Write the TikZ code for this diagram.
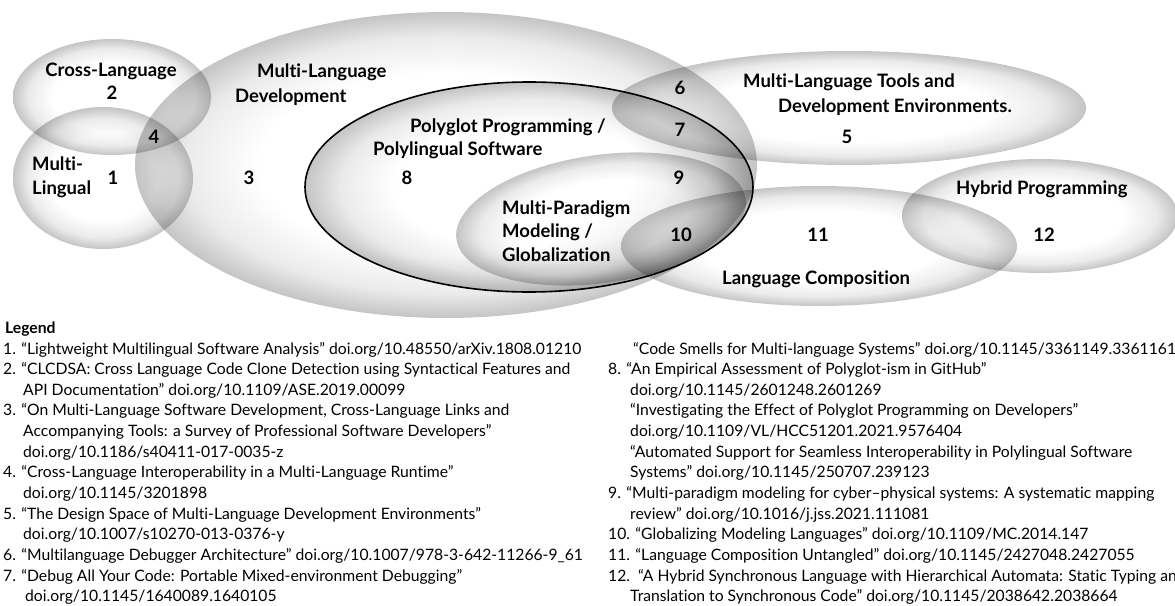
\documentclass[tikz,border=0pt]{standalone}
\usepackage{fontspec}
\setmainfont{Lato}[Ligatures=NoCommon]
\pgfdeclareradialshading{vennshade}{\pgfpointorigin}{color(0bp)=(white); color(15bp)=(white); color(21bp)=(black!8); color(25bp)=(black!23); color(50bp)=(black!23)}
\begin{document}
\begin{tikzpicture}[x=1pt,y=-1pt,
  lab/.style={inner sep=0pt, font=\fontsize{18.5}{23.5}\selectfont\bfseries},
  labw/.style={lab, anchor=base west},
  num/.style={lab, anchor=center},
  leg/.style={inner sep=0pt, anchor=base west, font=\fontsize{15.7}{20.6}\selectfont},
  venn/.style={shading=vennshade, blend mode=multiply}]
\useasboundingbox (0,0) rectangle (1175,605);
\clip (0,0) rectangle (1175,605);
% ellipses
\shade[venn] (446,165) ellipse [x radius=311pt, y radius=153pt];
\shade[venn] (112,97) ellipse [x radius=99pt, y radius=58pt];
\shade[venn] (103,178) ellipse [x radius=90pt, y radius=71pt];
\shade[venn] (529,187) ellipse [x radius=224pt, y radius=105pt];
\begin{scope}[transform canvas={rotate around={8:(601,219)}}]
\shade[venn] (601,219) ellipse [x radius=146pt, y radius=64pt];
\end{scope}
\shade[venn] (849,108) ellipse [x radius=237pt, y radius=57pt];
\shade[venn] (819,246) ellipse [x radius=198pt, y radius=60pt];
\shade[venn] (1040,216) ellipse [x radius=138pt, y radius=57pt];
\draw[line width=1.6pt] (529,187) ellipse [x radius=224pt, y radius=105pt];
% labels
\node[lab, anchor=base] (tcross) at (111,76) {Cross-Language};
\node[labw, align=left] (tmling) at (32,194) {Multi-\\Lingual};
\node[labw] (tmld1) at (257,77) {Multi-Language};
\node[labw] (tmld2) at (235,102) {Development};
\node[labw] (tpoly1) at (410,132) {Polyglot Programming /};
\node[labw] (tpoly2) at (373,155) {Polylingual Software};
\node[labw, align=left] (tmpar) at (502,261) {Multi-Paradigm\\Modeling /\\Globalization};
\node[labw] (ttool1) at (743,87) {Multi-Language Tools and};
\node[labw] (ttool2) at (778,112) {Development Environments.};
\node[labw] (thyb) at (956,194) {Hybrid Programming};
\node[labw] (tcomp) at (722,284) {Language Composition};
\node[num] (n1) at (113,178) {1};
\node[num] (n2) at (112,93) {2};
\node[num] (n3) at (249,178) {3};
\node[num] (n4) at (154,137) {4};
\node[num] (n5) at (847,137) {5};
\node[num] (n6) at (680,88) {6};
\node[num] (n7) at (680,130) {7};
\node[num] (n8) at (407,178) {8};
\node[num] (n9) at (679,178) {9};
\node[num] (n10) at (681,235) {10};
\node[num] (n11) at (818,235) {11};
\node[num] (n12) at (1044,235) {12};
% legend left
\node[leg, font=\fontsize{15.7}{20.6}\selectfont\bfseries] (lg) at (5,333.5) {Legend};
\node[leg] (a1) at (3,354) {1. “Lightweight Multilingual Software Analysis” doi.org/10.48550/arXiv.1808.01210};
\node[leg] (a2) at (3,374.65) {2. “CLCDSA: Cross Language Code Clone Detection using Syntactical Features and};
\node[leg] (a3) at (23,395.3) {API Documentation” doi.org/10.1109/ASE.2019.00099};
\node[leg] (a4) at (3,415.95) {3. “On Multi-Language Software Development, Cross-Language Links and};
\node[leg] (a5) at (23,436.6) {Accompanying Tools: a Survey of Professional Software Developers”};
\node[leg] (a6) at (23,457.25) {doi.org/10.1186/s40411-017-0035-z};
\node[leg] (a7) at (3,477.9) {4. “Cross-Language Interoperability in a Multi-Language Runtime”};
\node[leg] (a8) at (23,498.55) {doi.org/10.1145/3201898};
\node[leg] (a9) at (3,519.2) {5. “The Design Space of Multi-Language Development Environments”};
\node[leg] (a10) at (23,539.85) {doi.org/10.1007/s10270-013-0376-y};
\node[leg] (a11) at (3,560.5) {6. “Multilanguage Debugger Architecture” doi.org/10.1007/978-3-642-11266-9\_61};
\node[leg] (a12) at (3,581.15) {7. “Debug All Your Code: Portable Mixed-environment Debugging”};
\node[leg] (a13) at (25,601.8) {doi.org/10.1145/1640089.1640105};
% legend right
\node[leg] (b1) at (633,354) {“Code Smells for Multi-language Systems” doi.org/10.1145/3361149.3361161};
\node[leg] (b2) at (608,374.65) {8. “An Empirical Assessment of Polyglot-ism in GitHub”};
\node[leg] (b3) at (630,395.3) {doi.org/10.1145/2601248.2601269};
\node[leg] (b4) at (630,415.95) {“Investigating the Effect of Polyglot Programming on Developers”};
\node[leg] (b5) at (630,436.6) {doi.org/10.1109/VL/HCC51201.2021.9576404};
\node[leg] (b6) at (630,457.25) {“Automated Support for Seamless Interoperability in Polylingual Software};
\node[leg] (b7) at (630,477.9) {Systems” doi.org/10.1145/250707.239123};
\node[leg] (b8) at (608,498.55) {9. “Multi-paradigm modeling for cyber–physical systems: A systematic mapping};
\node[leg] (b9) at (630,519.2) {review” doi.org/10.1016/j.jss.2021.111081};
\node[leg] (b10) at (608,539.85) {10. “Globalizing Modeling Languages” doi.org/10.1109/MC.2014.147};
\node[leg] (b11) at (608,560.5) {11. “Language Composition Untangled” doi.org/10.1145/2427048.2427055};
\node[leg] (b12) at (608,581.15) {12.\ \ “A Hybrid Synchronous Language with Hierarchical Automata: Static Typing and};
\node[leg] (b13) at (630,601.8) {Translation to Synchronous Code” doi.org/10.1145/2038642.2038664};
\end{tikzpicture}
\end{document}
